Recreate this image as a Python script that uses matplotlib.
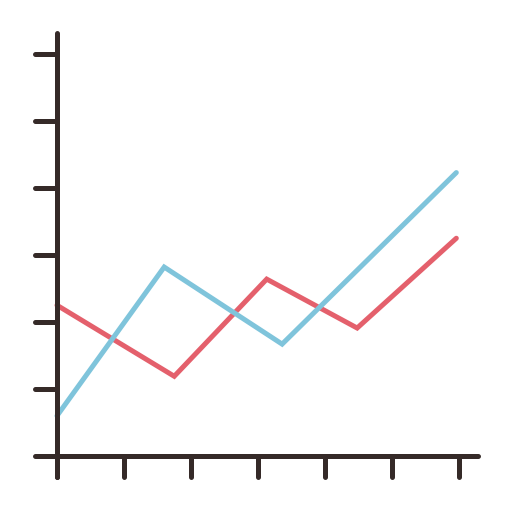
import matplotlib
matplotlib.use('Agg')
import matplotlib.pyplot as plt

# series values (x in tick units, y in tick units)
blue_x = [0.0, 1.6, 3.36, 5.96]
blue_y = [0.6, 2.82, 1.67, 4.23]
red_x = [0.0, 1.75, 3.13, 4.48, 5.96]
red_y = [2.25, 1.19, 2.64, 1.91, 3.25]

x_ticks = [0, 1, 2, 3, 4, 5, 6]
y_ticks = [1, 2, 3, 4, 5, 6]

dark = '#352a28'
blue = '#7fc4db'
red = '#e4606c'
lw = 3.6

fig = plt.figure(figsize=(5.12, 5.12), dpi=100)
ax = fig.add_axes([0, 0, 1, 1])
ax.set_xlim(-57 / 67, (512 - 57) / 67)
ax.set_ylim(-56 / 67, (512 - 56) / 67)
ax.axis('off')

# colored lines
ax.plot(red_x, red_y, color=red, lw=lw, solid_capstyle='round', solid_joinstyle='miter', zorder=2)
ax.plot(blue_x, blue_y, color=blue, lw=lw, solid_capstyle='round', solid_joinstyle='miter', zorder=2)

# axes with round caps
ax.plot([0, 0], [-0.32, 6.31], color=dark, lw=lw, solid_capstyle='round', zorder=3)
ax.plot([-0.33, 6.28], [0, 0], color=dark, lw=lw, solid_capstyle='round', zorder=3)
for t in y_ticks:
    ax.plot([-0.33, 0], [t, t], color=dark, lw=lw, solid_capstyle='round', zorder=3)
for t in x_ticks:
    ax.plot([t, t], [-0.32, 0], color=dark, lw=lw, solid_capstyle='round', zorder=3)

fig.savefig('out.png', dpi=100)
